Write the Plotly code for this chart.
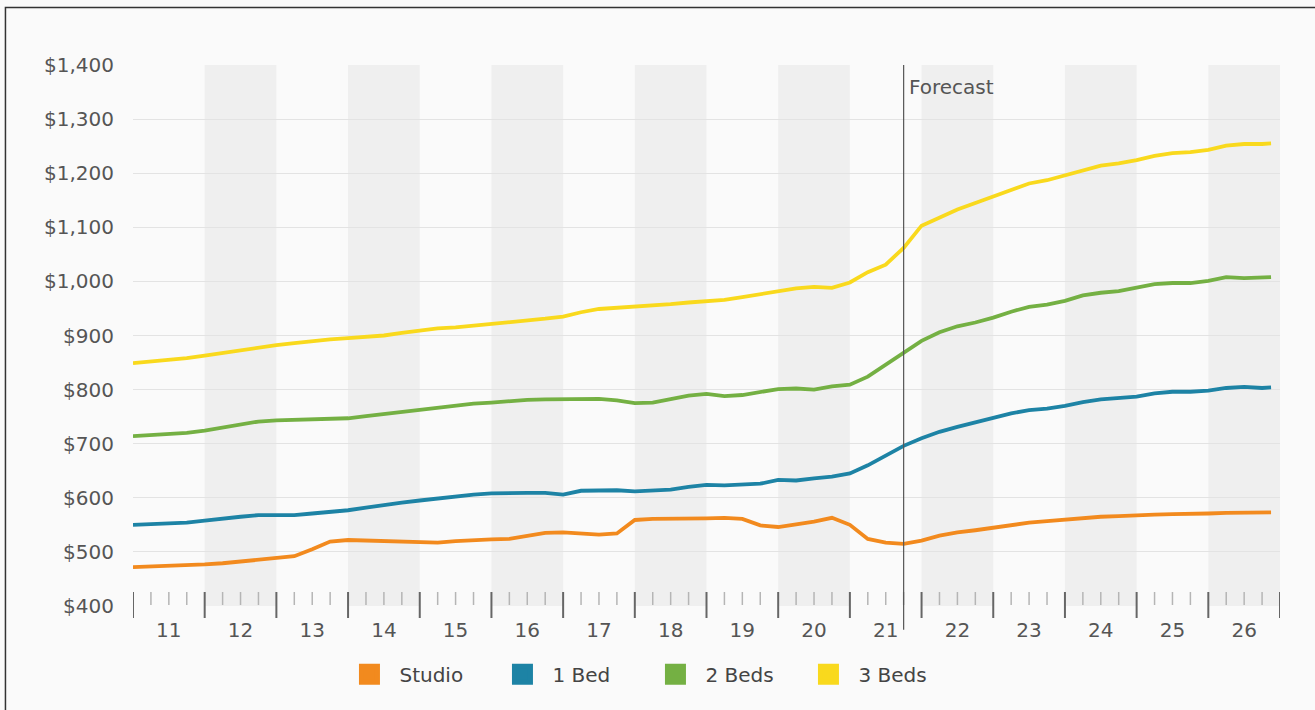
import plotly.graph_objects as go

# ---- data (quarterly, fractional years) ----
quarters = [2011 + 0.25 * k for k in range(64)] + [2026.875]
series_names = ["Studio", "1 Bed", "2 Beds", "3 Beds"]
series_colors = ["#F28A1E", "#1D83A5", "#74B043", "#F9D91D"]

studio = [472, 473, 474, 475, 477, 479, 482, 485, 488, 492, 505, 519,
          522, 521, 520, 519, 517, 517, 520, 522, 523, 524, 530, 535,
          536, 534, 532, 534, 559, 561, 561, 561, 562, 563, 561, 549,
          546, 551, 556, 563, 550, 524, 517, 515, 521, 530, 536, 540,
          545, 550, 554, 557, 560, 563, 565, 566, 568, 569, 570, 570,
          571, 572, 573, 573, 573]
bed1 = [550, 551, 552, 554, 558, 562, 565, 568, 568, 568, 571, 574,
        577, 582, 587, 591, 595, 599, 603, 606, 608, 609, 609, 609,
        606, 613, 614, 614, 612, 613, 615, 620, 624, 623, 624, 626,
        633, 632, 636, 639, 645, 660, 678, 696, 710, 722, 731, 739,
        748, 756, 762, 765, 770, 777, 782, 784, 787, 793, 796, 796,
        798, 803, 805, 803, 804]
bed2 = [714, 716, 718, 720, 724, 730, 736, 741, 743, 744, 745, 746,
        747, 751, 755, 759, 762, 766, 771, 774, 776, 779, 781, 782,
        782, 782, 783, 780, 775, 776, 783, 789, 792, 788, 790, 795,
        801, 802, 800, 806, 809, 824, 846, 870, 890, 906, 917, 924,
        933, 944, 953, 957, 964, 974, 979, 982, 988, 995, 997, 997,
        1001, 1008, 1006, 1007, 1008]
bed3 = [849, 852, 855, 858, 863, 868, 873, 877, 882, 886, 890, 893,
        895, 897, 900, 905, 909, 913, 915, 918, 921, 925, 928, 931,
        935, 943, 949, 951, 953, 955, 958, 961, 963, 966, 971, 976,
        982, 987, 990, 988, 998, 1017, 1031, 1062, 1103, 1118, 1133, 1145,
        1157, 1170, 1181, 1187, 1196, 1206, 1214, 1218, 1224, 1232, 1237, 1239,
        1243, 1251, 1254, 1254, 1255]

years = list(range(2011, 2028))
year_labels = ["11", "12", "13", "14", "15", "16", "17", "18", "19", "20",
               "21", "22", "23", "24", "25", "26"]
y_ticks = list(range(400, 1401, 100))
forecast_start = 2021.75

FONT = "DejaVu Sans, Arial, sans-serif"
TXT = "#555555"

fig = go.Figure()
for name, vals, col in zip(series_names, [studio, bed1, bed2, bed3], series_colors):
    fig.add_trace(go.Scatter(x=quarters, y=vals, mode="lines", name=name,
                             line=dict(color=col, width=3.8), showlegend=False,
                             hoverinfo="x+y"))
# legend squares
for name, col in zip(series_names, series_colors):
    fig.add_trace(go.Scatter(x=[None], y=[None], mode="markers", name=name,
                             marker=dict(symbol="square", size=16, color=col,
                                         line=dict(color=col, width=5)),
                             showlegend=True))

shapes = []
# alternating shaded year bands
for i, y0 in enumerate(years[:-1]):
    if i % 2 == 1:
        shapes.append(dict(type="rect", xref="x", yref="y", x0=y0, x1=y0 + 1,
                           y0=400, y1=1400, fillcolor="#EFEFEF", line=dict(width=0),
                           layer="below"))
# major ticks at year boundaries
for y0 in years:
    shapes.append(dict(type="line", xref="x", yref="paper", ysizemode="pixel", yanchor=0,
                       x0=y0, x1=y0, y0=-12, y1=14,
                       line=dict(color="#666666", width=2)))
# minor quarter ticks
for y0 in years[:-1]:
    for q in (0.25, 0.5, 0.75):
        shapes.append(dict(type="line", xref="x", yref="paper", ysizemode="pixel", yanchor=0,
                           x0=y0 + q, x1=y0 + q, y0=1, y1=14,
                           line=dict(color="#B5B5B5", width=1.5)))
# forecast line
shapes.append(dict(type="line", xref="x", yref="paper", x0=forecast_start, x1=forecast_start,
                   y0=-0.044, y1=1.0, line=dict(color="#555555", width=1.2)))
# outer frame (top and left edges)
shapes.append(dict(type="path", xref="paper", yref="paper",
                   path="M -0.1112,-0.3 L -0.1112,1.1063 L 1.2,1.1063",
                   line=dict(color="#333333", width=1.5)))

fig.update_layout(
    width=1315, height=710,
    margin=dict(l=133, r=35, t=65, b=104),
    paper_bgcolor="#FAFAFA", plot_bgcolor="#FAFAFA",
    font=dict(family=FONT, size=20, color=TXT),
    shapes=shapes,
    showlegend=True,
    legend=dict(orientation="h", x=0.1800, xanchor="left", y=-0.126, yanchor="middle",
                font=dict(family=FONT, size=20, color="#444444"),
                itemwidth=50, entrywidth=88, bgcolor="rgba(0,0,0,0)"),
    annotations=[dict(x=forecast_start, y=0.959, xref="x", yref="paper", text="Forecast",
                      showarrow=False, xanchor="left", yanchor="middle", xshift=3,
                      font=dict(family=FONT, size=20, color=TXT))],
    xaxis=dict(range=[2011, 2027], tickvals=[y + 0.5 for y in years[:-1]],
               ticktext=year_labels, ticks="", showgrid=False, zeroline=False,
               showline=False, ticklabelstandoff=10,
               tickfont=dict(family=FONT, size=20, color=TXT)),
    yaxis=dict(range=[400, 1400], tickvals=y_ticks, tickformat="$,.0f",
               showgrid=True, gridcolor="#E3E3E3", gridwidth=1, zeroline=False,
               showline=False, ticks="", ticklabelstandoff=18,
               tickfont=dict(family=FONT, size=20, color=TXT)),
)

fig.write_html("out.html")
